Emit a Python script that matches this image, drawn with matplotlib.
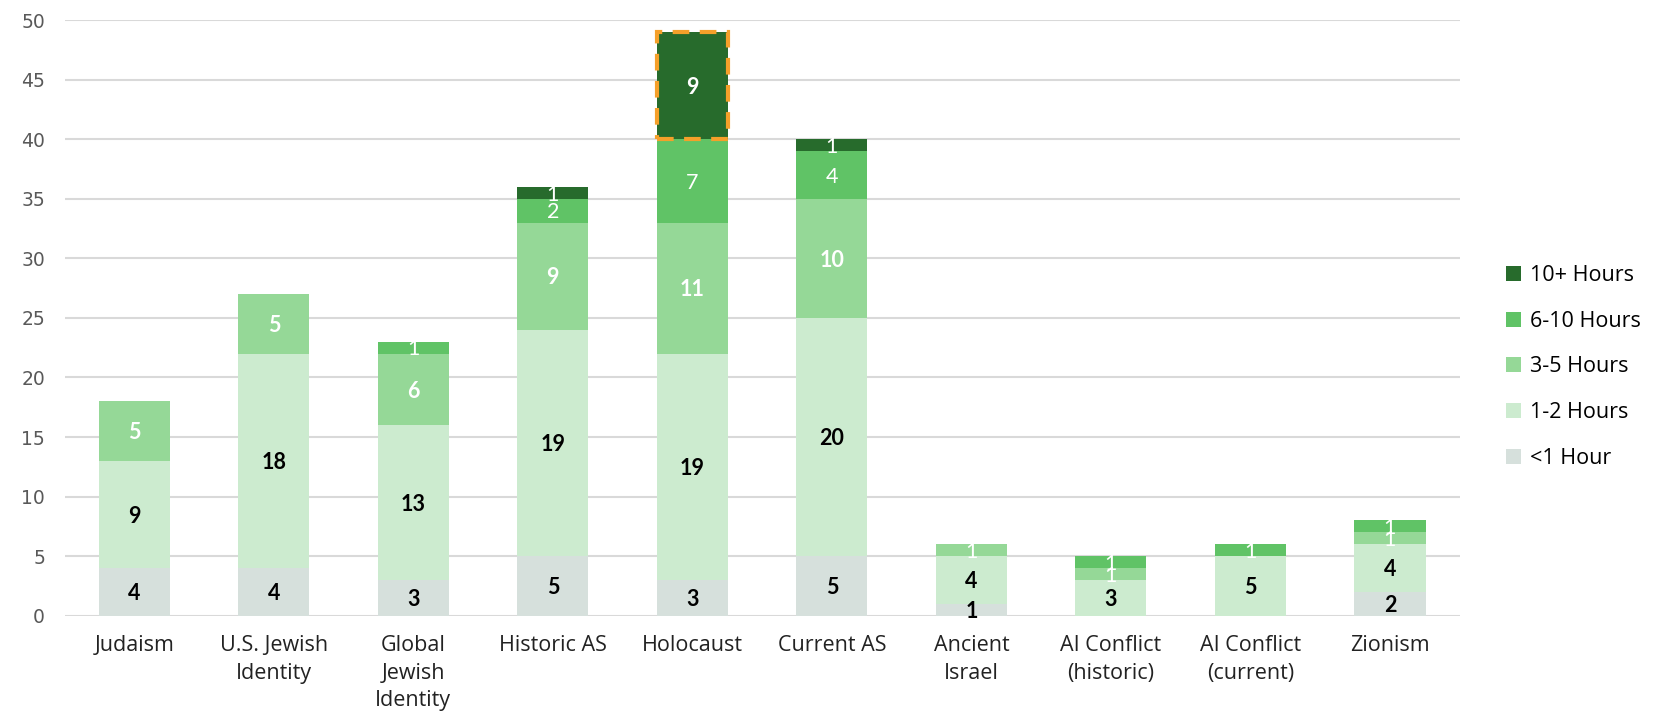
import numpy as np
import matplotlib.pyplot as plt

plt.rcParams['font.family'] = ['Open Sans', 'DejaVu Sans']

topics = ["Judaism", "U.S. Jewish\nIdentity", "Global\nJewish\nIdentity", "Historic AS",
          "Holocaust", "Current AS", "Ancient\nIsrael", "AI Conflict\n(historic)",
          "AI Conflict\n(current)", "Zionism"]

series_names = ["<1 Hour", "1-2 Hours", "3-5 Hours", "6-10 Hours", "10+ Hours"]
under_1 = [4, 4, 3, 5, 3, 5, 1, 0, 0, 2]
h1_2 = [9, 18, 13, 19, 19, 20, 4, 3, 5, 4]
h3_5 = [5, 5, 6, 9, 11, 10, 1, 1, 0, 1]
h6_10 = [0, 0, 1, 2, 7, 4, 0, 1, 1, 1]
h10_plus = [0, 0, 0, 1, 9, 1, 0, 0, 0, 0]

colors = ["#D6E0DC", "#CCEBCF", "#95D897", "#60C366", "#276B2C"]
label_colors = ["black", "black", "white", "white", "white"]

fig = plt.figure(figsize=(16.55, 7.16), dpi=100)
ax = fig.add_axes([0.039, 0.14, 0.843, 0.832])

x = np.arange(len(topics))
bottom = np.zeros(len(topics))
containers = []
for i, vals in enumerate([under_1, h1_2, h3_5, h6_10, h10_plus]):
    vals = np.array(vals)
    bars = ax.bar(x, vals, 0.51, bottom=bottom, color=colors[i], label=series_names[i], zorder=2)
    containers.append(bars)
    for j, b in enumerate(bars):
        v = vals[j]
        if v == 0:
            continue
        bold = (i < 2) or (i == 2 and v > 1) or (i == 4 and v > 1)
        ax.text(b.get_x() + b.get_width() / 2, bottom[j] + v / 2 - 0.15, str(v),
                ha='center', va='center', color=label_colors[i], fontsize=15.5,
                family=['Lato', 'DejaVu Sans'],
                fontweight='bold' if bold else 'normal', zorder=4)
    bottom += vals

# highlight the Holocaust 10+ segment
hb = containers[4][4]
ax.add_patch(plt.Rectangle((hb.get_x(), hb.get_y()), hb.get_width(), hb.get_height(),
                           fill=False, edgecolor="#F5A02A", linestyle=(0, (4, 2.5)),
                           linewidth=3, zorder=5, clip_on=False))

ax.set_xlim(-0.5, len(topics) - 0.5)
ax.set_ylim(0, 50)
ax.set_yticks(range(0, 51, 5))
ax.set_xticks(x)
ax.set_xticklabels(topics, fontsize=15.5, color="#222222", linespacing=1.4)
for t in ax.get_yticklabels():
    t.set_fontfamily('DejaVu Sans')
ax.tick_params(axis='y', length=0, pad=14, labelsize=13.5, labelcolor="#595959")
ax.tick_params(axis='x', length=0, pad=14)
ax.grid(axis='y', color="#D9D9D9", linewidth=1.5, zorder=0)
for s in ax.spines.values():
    s.set_visible(False)

handles, labels = ax.get_legend_handles_labels()
fig.legend(handles[::-1], labels[::-1], loc='upper left', bbox_to_anchor=(0.905, 0.642),
           frameon=False, fontsize=15.5, handlelength=0.7, handleheight=0.7,
           handletextpad=0.4, labelspacing=1.15, borderaxespad=0)

fig.savefig("out.png", dpi=100)
